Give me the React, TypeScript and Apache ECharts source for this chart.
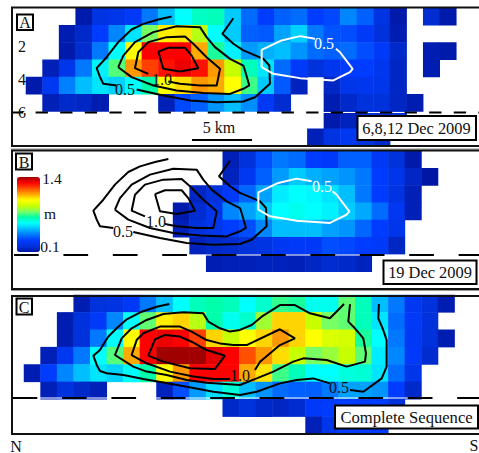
import React, { useEffect, useRef } from "react";
import * as echarts from "echarts";

const _ = null;
const columns = Array.from({ length: 26 }, (_v, i) => i);
const rows = [0, 1, 2, 3, 4, 5, 6, 7];

const cellsA = [
  [_, _, _, .12, .22, .24, .28, .4, .5, .6, .67, .68, .52, .38, .3, .36, .38, .3, .32, .42, .36, .22, .12, _, .18, .12],
  [_, _, .13, .17, .3, .42, .56, .8, 1.02, 1.03, .88, .6, .52, .36, .35, .46, .53, .4, .34, .33, .28, .2, .13, _, _, _],
  [_, _, .12, .18, .4, .6, 1.0, 1.3, 1.3, 1.3, 1.1, .72, .58, .45, .48, .5, .44, .38, .36, .38, .33, .28, .17, _, .13, .12],
  [_, .14, .24, .4, .58, .77, 1.12, 1.22, 1.28, 1.32, 1.28, 1.12, .9, .68, .56, .38, .28, .2, .25, .3, .3, .25, .16, _, .13, _],
  [.12, .26, .41, .5, .56, .53, .6, .7, 1.0, 1.04, 1.12, 1.1, 1.0, .75, .52, .35, .15, _, .16, .24, .25, .24, .16, _, _, _],
  [_, .14, .17, .16, .13, _, _, _, .14, .32, .36, .44, .5, .43, .27, .18, _, _, .13, .17, .2, .2, .16, .13, _, _],
  [_, _, _, _, _, _, _, _, _, _, _, _, _, _, _, _, _, _, .12, .15, .2, .2, .2, _, _, _],
  [_, _, _, _, _, _, _, _, _, _, _, _, _, _, _, _, _, .14, .22, .26, .2, .17, _, _, _, _],
];
const cellsB = [
  [_, _, _, _, _, _, _, _, _, _, _, _, .14, .2, .33, .4, .38, .3, .28, .36, .36, .27, .2, .12, _, _],
  [_, _, _, _, _, _, _, _, _, _, _, _, .15, .26, .36, .45, .52, .48, .46, .44, .4, .3, .24, .16, .11, _],
  [_, _, _, _, _, _, _, _, _, _, .16, .2, .28, .37, .46, .57, .6, .59, .56, .5, .4, .3, .22, .14, _, _],
  [_, _, _, _, _, _, _, _, _, .12, .18, .24, .42, .46, .52, .6, .62, .6, .58, .52, .47, .38, .26, .14, _, _],
  [_, _, _, _, _, _, _, _, _, .14, .2, .24, .3, .33, .42, .5, .5, .5, .46, .44, .37, .3, .24, _, _, _],
  [_, _, _, _, _, _, _, _, _, _, .15, .17, .18, .2, .22, .26, .28, .27, .33, .32, .3, .28, .16, _, _, _],
  [_, _, _, _, _, _, _, _, _, _, _, .13, .14, .14, .15, .15, .14, .16, .18, .17, .15, _, _, _, _, _],
  [_, _, _, _, _, _, _, _, _, _, _, _, _, _, _, _, _, _, _, _, _, _, _, _, _, _],
];
const cellsC = [
  [_, _, _, .13, .2, .22, .27, .4, .5, .6, .68, .7, .68, .6, .66, .74, .72, .62, .62, .78, .68, .5, .4, .26, .2, .13],
  [_, _, .13, .2, .28, .42, .6, .78, 1.02, 1.05, .88, .7, .62, .66, .85, 1.05, 1.05, .9, .8, .78, .68, .56, .38, .28, .2, _],
  [_, _, .13, .2, .4, .6, 1.0, 1.3, 1.32, 1.3, 1.22, 1.05, .9, 1.0, 1.05, 1.12, 1.05, 1.0, .93, .92, .72, .6, .4, .27, .2, .13],
  [_, .14, .26, .4, .6, .77, 1.1, 1.3, 1.4, 1.4, 1.4, 1.33, 1.3, 1.2, 1.12, 1.04, .9, .8, .84, .9, .78, .57, .42, .28, .18, _],
  [.13, .3, .42, .5, .56, .53, .6, .7, 1.0, 1.12, 1.3, 1.3, 1.3, 1.1, 1.03, .75, .68, .6, .6, .64, .65, .56, .38, .24, _, _],
  [_, .14, .2, .17, .14, _, _, _, .15, .33, .45, .55, .65, .5, .44, .38, .36, .36, .4, .46, .46, .44, .3, .17, _, _],
  [_, _, _, _, _, _, _, _, _, _, _, _, .17, .2, .17, .16, .18, .28, .3, .3, .28, .3, .2, _, _, _],
  [_, _, _, _, _, _, _, _, _, _, _, _, _, _, _, _, _, .14, .24, .3, .3, .3, _, _, _, _],
];

// Contours, [km along strike, depth km]
const outerLeft = [[12.03, .22], [10.92, .4], [9.67, .66], [8.69, 1.0], [7.58, 1.76], [6.61, 2.67], [5.78, 3.33], [6.06, 3.87], [6.33, 4.27], [7.44, 4.37]];
const outerRight = [[9.11, 4.61], [11.33, 4.98], [13.56, 5.28], [15.78, 5.38], [18, 5.34], [18.97, 5.08], [20.22, 4.27], [20.17, 3.17], [19.67, 2.77], [18, 2.26], [17.17, 1.86], [16.25, 1.26], [17.17, .32]];
const second = [[7.58, 3.27], [8, 2.57], [8.97, 1.76], [10.5, 1.16], [12.44, .8], [14.39, .86], [14.94, 1.46], [15.64, 2.06], [16.89, 2.77], [18, 3.17], [18.14, 3.47], [18.5, 4.37], [18, 4.57], [16.89, 4.88], [14.67, 4.82], [12.44, 4.67], [10.5, 4.37], [8.69, 3.87], [7.58, 3.27]];
const third = [[10.08, 3.67], [8.97, 3.33], [9.25, 2.37], [10.08, 1.76], [11.61, 1.46], [13.14, 1.42], [13.83, 1.86], [14.94, 2.67], [16.06, 3.37], [15.78, 4.37], [14.39, 4.37], [12.72, 4.27], [11.75, 4.13]];
const inner = [[10.92, 2.33], [11.75, 2.1], [13.14, 2.1], [13.69, 2.57], [14.25, 3.33], [12.72, 3.53], [11.33, 3.37], [10.92, 2.33]];
const whiteContour = [[23.97, 1.56], [22.72, 1.4], [21.19, 1.66], [19.53, 2.23], [19.53, 3.27], [20.5, 3.67], [22.72, 3.93], [25.5, 4.07], [26.89, 3.57], [27.11, 3.37], [26.06, 2.37], [25.72, 2.16]];

const cOuterLeft = [[12.11, .34], [11.06, .5], [9.81, .8], [8.56, 1.26], [7.72, 1.8], [7.03, 2.3], [6.33, 3.11], [5.78, 3.45], [6.06, 4.01], [6.33, 4.37], [6.89, 4.51], [8.28, 4.61], [9.94, 4.86], [11.61, 5.06], [13.56, 5.32], [15.78, 5.62], [18, 5.82], [19.39, 5.62], [21.33, 5.12], [22.72, 4.92], [24.11, 4.82], [25.5, 5.12]];
const cOuterRight = [[27.17, 5.52], [28.28, 5.62], [29.81, 4.82], [30.22, 4.11], [30.22, 2.51], [29.94, 1.9], [29.53, 1.2], [29.58, .34]];
const cSecond = [[26.67, .34], [25.5, 1.2], [23.83, .9], [22.58, .4], [21.33, .4], [19.81, 1.1], [18.97, 1.6], [18, 1.9], [17.17, 2.0], [16.33, 1.8], [15.36, 1.4], [14.94, .9], [13.28, .84], [11.61, .94], [10.22, 1.3], [8.97, 1.8], [8.14, 2.41], [7.58, 3.41], [9.11, 4.11], [10.22, 4.41], [11.89, 4.61], [13.56, 4.92], [15.22, 5.08], [18, 5.22], [19.39, 4.82], [20.78, 4.41], [22.44, 3.81], [23.28, 3.61], [25.22, 3.71], [26.89, 4.11], [28.42, 3.81], [28.5, 3.31], [28.28, 2.41], [27.58, 1.8], [27.03, 1.4], [27.17, .34]];
const cThird = [[19.25, 4.31], [19.67, 3.81], [21.33, 2.81], [22.58, 2.41], [21.33, 1.86], [18.56, 2.81], [17.44, 2.81], [16.33, 2.71], [15.22, 2.51], [13.97, 2.0], [13, 1.7], [11.33, 1.7], [9.94, 2.1], [9.39, 2.51], [8.97, 3.41], [10.22, 3.91], [12.17, 4.41], [14.11, 4.71], [15.78, 4.86], [17.17, 4.86]];
const cInner = [[10.36, 3.45], [10.92, 2.47], [11.75, 2.2], [13, 2.3], [13.97, 2.61], [15.22, 3.11], [16.75, 3.45], [15.92, 4.25], [13.83, 4.21], [11.61, 3.81], [10.36, 3.45]];

const depthTicks = [2, 4, 6];
const shorelineDepth = 6;
const colorStops = ["#0014a0", "#0032dc", "#003cff", "#0078ff", "#00beff", "#00ffff", "#00ffaa", "#78ff64", "#c8ff00", "#ffff00", "#ffaa00", "#ff5000", "#ff0000", "#a00000"];

const SERIF = '"Liberation Serif", "Times New Roman", serif';

// cell grid: left/width; overlay grid for km/depth marks spans the full page width
const panels = [
  { cells: cellsA, left: 26, top: 8, width: 430.3, height: 138, xMin: -2.275, xMax: 37.64, dMin: -0.295, dMax: 8.018, lineStart: -1.36, lineEnd: 37.64, veil: 1, veilOpacity: 1 },
  { cells: cellsB, left: 24, top: 151, width: 430.6, height: 138, xMin: -2, xMax: 37.92, dMin: -0.265, dMax: 8.048, lineStart: -0.83, lineEnd: 37.92, veil: 2, veilOpacity: 0.5 },
  { cells: cellsC, left: 24, top: 295, width: 430.6, height: 139, xMin: -2, xMax: 37.92, dMin: -0.205, dMax: 8.169, lineStart: -0.95, lineEnd: 37.92, veil: 2, veilOpacity: 0.5 },
];

const contourSets: { data: number[][]; color: string }[][] = [
  [outerLeft, outerRight, second, third, inner].map((data) => ({ data, color: "#000" })).concat([{ data: whiteContour, color: "#fff" }]),
  [outerLeft, outerRight, second, third, inner].map((data) => ({ data, color: "#000" })).concat([{ data: whiteContour, color: "#fff" }]),
  [cOuterLeft, cOuterRight, cSecond, cThird, cInner].map((data) => ({ data, color: "#000" })),
];

function text(str: string, x: number, y: number, size = 16, fill = "#111", align = "center") {
  return {
    type: "text", x, y, z: 20, silent: true,
    style: { text: str, font: `${size}px ${SERIF}`, fill, align, verticalAlign: "middle" },
  };
}
function box(x: number, y: number, w: number, h: number, lw = 2) {
  return {
    type: "rect", z: 18, silent: true,
    shape: { x, y, width: w, height: h },
    style: { fill: "#fff", stroke: "#000", lineWidth: lw },
  };
}
function frame(x: number, y: number, w: number, h: number) {
  return {
    type: "rect", z: 15, silent: true,
    shape: { x, y, width: w, height: h },
    style: { fill: "none", stroke: "#111", lineWidth: 2 },
  };
}
function hline(y: number, color: string) {
  return {
    type: "line", z: 14, silent: true,
    shape: { x1: 11, y1: y, x2: 479, y2: y },
    style: { stroke: color, lineWidth: 1 },
  };
}

export default function App() {
  const ref = useRef<HTMLDivElement>(null);
  useEffect(() => {
    const chart = echarts.init(ref.current!, undefined, { renderer: "svg" });
    const grid: any[] = [];
    const xAxis: any[] = [];
    const yAxis: any[] = [];
    const series: any[] = [];
    panels.forEach((p, i) => {
      grid.push({ left: p.left, top: p.top, width: p.width, height: p.height, show: false, containLabel: false });
      grid.push({ left: 0, top: p.top, width: 479, height: p.height, show: false, containLabel: false });
      xAxis.push({ type: "category", gridIndex: i * 2, show: false, data: columns });
      xAxis.push({ type: "value", gridIndex: i * 2 + 1, show: false, min: p.xMin, max: p.xMax });
      yAxis.push({ type: "category", gridIndex: i * 2, show: false, data: rows, inverse: true });
      yAxis.push({
        type: "value", gridIndex: i * 2 + 1, inverse: true, min: p.dMin, max: p.dMax, position: "left",
        show: i === 0,
        axisLine: { show: false },
        axisTick: { show: false },
        splitLine: { show: false },
        axisLabel: { customValues: depthTicks, inside: true, margin: 18, fontFamily: SERIF, fontSize: 16, color: "#111" },
      });
      const data: number[][] = [];
      p.cells.forEach((row, r) => row.forEach((v, c) => { if (v !== null) data.push([c, r, v as number]); }));
      series.push({ type: "heatmap", xAxisIndex: i * 2, yAxisIndex: i * 2, data, progressive: 0, z: 2 });
      const lineBase = { type: "line", xAxisIndex: i * 2 + 1, yAxisIndex: i * 2 + 1, symbol: "none", silent: true };
      series.push({
        ...lineBase, z: 3,
        data: [[p.lineStart, shorelineDepth], [p.lineEnd, shorelineDepth]],
        lineStyle: { color: "#fff", width: p.veil, opacity: p.veilOpacity },
      });
      contourSets[i].forEach((c) => {
        series.push({ ...lineBase, z: 4, data: c.data, lineStyle: { color: c.color, width: 2 } });
      });
      series.push({
        ...lineBase, z: 5,
        data: [[p.lineStart, shorelineDepth], [p.lineEnd, shorelineDepth]],
        lineStyle: { color: "#000", width: 2, type: i === 0 ? [12.3, 12.3] : [24.7, 24.7] },
      });
    });

    const heatSeriesIdx = series.map((s, idx) => (s.type === "heatmap" ? idx : -1)).filter((v) => v >= 0);

    chart.setOption({
      animation: false,
      backgroundColor: "#fff",
      grid, xAxis, yAxis, series,
      visualMap: {
        type: "continuous", min: 0.1, max: 1.4, seriesIndex: heatSeriesIdx,
        inRange: { color: colorStops },
        calculable: false, hoverLink: false, show: true, realtime: false,
        left: 17, top: 177, itemWidth: 23, itemHeight: 75, padding: 0, z: 12,
      },
      graphic: [
        frame(12, 7.5, 470, 138.5),
        frame(12, 150.5, 470, 138.5),
        frame(12, 296, 470, 138),
        hline(149, "#888"),
        hline(290.5, "#999"),
        box(17, 14.5, 16, 15.5), text("A", 25, 22.5),
        box(16, 153.5, 16, 16), text("B", 24, 162),
        box(16.5, 298.5, 15.5, 16), text("C", 24, 307),
        box(357.5, 116, 118.5, 24), text("6,8,12 Dec 2009", 416.5, 128.5, 16.4),
        box(383.5, 260.5, 93, 23.5), text("19 Dec 2009", 430, 272.5, 16.4),
        box(335, 405.5, 143, 23), text("Complete Sequence", 406.5, 417, 16.6),
        text("0.5", 125, 89), text("1.0", 162, 79.5), text("0.5", 324, 43, 16, "#fff"),
        text("0.5", 123, 231.5), text("1.0", 156, 221), text("0.5", 322, 186, 16, "#fff"),
        text("1.0", 240, 375), text("0.5", 339, 387.5),
        text("5 km", 219, 127.5),
        { type: "rect", z: 16, silent: true, shape: { x: 192, y: 139, width: 60, height: 2 }, style: { fill: "#000" } },
        text("1.4", 52, 178, 15.5), text("m", 50, 213, 15.5), text("0.1", 50, 246, 15.5),
        text("N", 16, 446, 16), text("S", 478.5, 445, 16, "#111", "right"),
      ],
    });
    return () => chart.dispose();
  }, []);
  return <div ref={ref} style={{ position: "absolute", left: 0, top: 0, width: 479, height: 453, overflow: "hidden" }} />;
}
